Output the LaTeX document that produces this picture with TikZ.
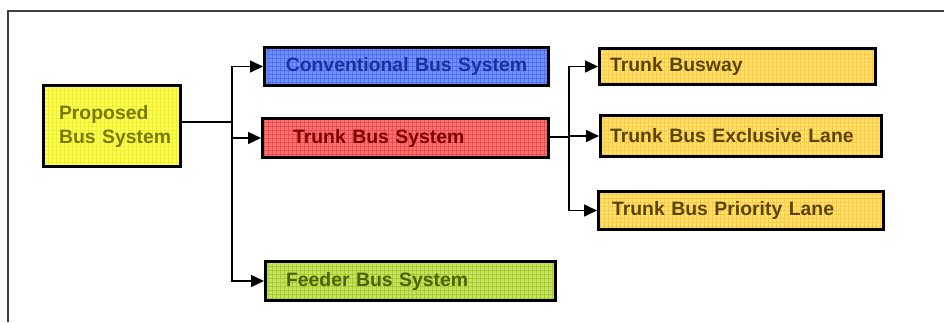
\documentclass[tikz,border=0pt]{standalone}
\usepackage{fontspec}
\setmainfont{Liberation Sans}
\usetikzlibrary{arrows.meta,patterns}
\pgfdeclarepatternformonly{boxgrid}{\pgfqpoint{-1pt}{-1pt}}{\pgfqpoint{5pt}{5pt}}{\pgfqpoint{4pt}{4pt}}{%
  \pgfsetlinewidth{0.4pt}%
  \pgfpathmoveto{\pgfqpoint{0pt}{0pt}}\pgfpathlineto{\pgfqpoint{4.1pt}{0pt}}%
  \pgfpathmoveto{\pgfqpoint{0pt}{0pt}}\pgfpathlineto{\pgfqpoint{0pt}{4.1pt}}%
  \pgfusepath{stroke}}
\definecolor{propfill}{HTML}{FFFF55}
\definecolor{propgrid}{HTML}{EEEE30}
\definecolor{proptext}{HTML}{7A7A00}
\definecolor{convfill}{HTML}{7090FF}
\definecolor{convgrid}{HTML}{5070EE}
\definecolor{convtext}{HTML}{1A3399}
\definecolor{trunkfill}{HTML}{FF7070}
\definecolor{trunkgrid}{HTML}{E85050}
\definecolor{trunktext}{HTML}{800000}
\definecolor{goldfill}{HTML}{FFE070}
\definecolor{goldgrid}{HTML}{F8CC40}
\definecolor{goldtext}{HTML}{5C4400}
\definecolor{feedfill}{HTML}{C8E264}
\definecolor{feedgrid}{HTML}{A8CC30}
\definecolor{feedtext}{HTML}{4A6600}
\definecolor{framecol}{HTML}{404040}
\begin{document}
\begin{tikzpicture}[x=1pt,y=-1pt,
  boxnode/.style={draw=black, line width=3pt, rectangle, inner ysep=0pt,
    font=\bfseries\fontsize{19.4}{24}\selectfont},
  gridfill/.style 2 args={preaction={fill=#1}, pattern=boxgrid, pattern color=#2},
  conn/.style={line width=1.5pt, black},
  arr/.style={conn, -{Triangle[length=13pt,width=12pt]}}
]
\useasboundingbox (0,0) rectangle (944,322);
% partial frame
\coordinate (fl) at (8,322);
\coordinate (fc) at (8,11);
\coordinate (fr) at (944,11);
\draw[framecol, line width=2pt] (fl) -- (fc) -- (fr);

\node[boxnode, gridfill={propfill}{propgrid}, text=proptext, minimum width=137pt, minimum height=81pt,
  text width=106pt, inner xsep=15.5pt, align=left] (prop) at (112,126) {\mbox{Proposed}\\\mbox{Bus System}};
\node[boxnode, gridfill={convfill}{convgrid}, text=convtext, minimum width=284pt, minimum height=38pt,
  text width=284pt, inner xsep=0pt, align=center] (conv) at (406.5,66.5) {Conventional Bus System};
\node[boxnode, gridfill={trunkfill}{trunkgrid}, text=trunktext, minimum width=286pt, minimum height=39pt,
  text width=225pt, inner xsep=30.5pt, align=left] (trunk) at (405.5,138) {Trunk Bus System};
\node[boxnode, gridfill={feedfill}{feedgrid}, text=feedtext, minimum width=290pt, minimum height=39pt,
  text width=249pt, inner xsep=20.5pt, align=left] (feeder) at (410.5,281) {Feeder Bus System};
\node[boxnode, gridfill={goldfill}{goldgrid}, text=goldtext, minimum width=276pt, minimum height=36pt,
  text width=255pt, inner xsep=10.5pt, align=left] (busway) at (737.5,66.5) {Trunk Busway};
\node[boxnode, gridfill={goldfill}{goldgrid}, text=goldtext, minimum width=281pt, minimum height=41pt,
  text width=262pt, inner xsep=9.5pt, align=left] (excl) at (741,136) {Trunk Bus Exclusive Lane};
\node[boxnode, gridfill={goldfill}{goldgrid}, text=goldtext, minimum width=285pt, minimum height=38pt,
  text width=258pt, inner xsep=13.5pt, align=left] (prio) at (741,210.5) {Trunk Bus Priority Lane};

% connectors left tree
\coordinate (j1) at (232,122);
\draw[conn] (prop.east |- j1) -- (j1);
\draw[arr] (j1) |- (conv.west);
\draw[arr] (j1) |- (trunk.west);
\draw[arr] (j1) |- (feeder.west);
% connectors right tree
\coordinate (j2) at (569,137);
\draw[conn] (trunk.east |- j2) -- (j2);
\draw[arr] (j2) |- (busway.west);
\draw[arr] (j2) |- (excl.west);
\draw[arr] (j2) |- (prio.west);
\end{tikzpicture}
\end{document}
